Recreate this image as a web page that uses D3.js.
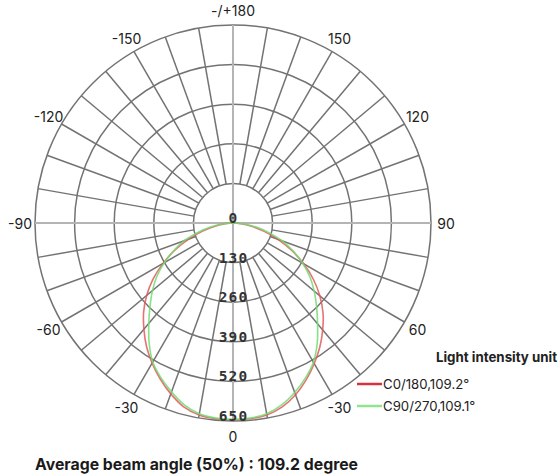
<!DOCTYPE html>
<html><head><meta charset="utf-8">
<script src="https://cdn.jsdelivr.net/npm/d3@7"></script>
<style>
html,body{margin:0;padding:0;background:#fff;}
svg{display:block;}
</style></head>
<body>
<svg id="chart" width="560" height="476"></svg>
<script>
// ---- data ----
const gammaAngles = [-90,-85,-80,-75,-70,-65,-60,-55,-50,-45,-40,-35,-30,-25,-20,-15,-10,-5,0,5,10,15,20,25,30,35,40,45,50,55,60,65,70,75,80,85,90];
const c0Values  = [0,25,60,105,155,210,265,320,370,415,455,495,531,565,597,625,640,645,645,645,640,625,600,568,533,497,458,418,372,322,268,212,157,106,62,26,0];
const c90Values = [0,35,75,120,170,215,260,305,345,385,430,480,527,560,590,618,636,643,645,643,636,618,592,562,528,482,432,388,348,308,264,218,172,122,77,36,0];
const ringValues = [130,260,390,520,650];
const ringLabels = ["0","130","260","390","520","650"];
const angleTicks = [0,30,60,90,120,150,180,-150,-120,-90,-60,-30];
const angleTickLabels = ["0","-30","60","90","120","150","-/+180","-150","-120","-90","-60","-30"];
const seriesNames = ["C0/180,109.2°","C90/270,109.1°"];
const seriesColors = ["#e05a5a","#72dc72"];
const legendColors = ["#d8323e","#8fe48f"];

const svg = d3.select("#chart");
const cx = 233, cy = 223, R = 198;
const r = d3.scaleLinear().domain([0, 650]).range([0, R]);
const toRad = d => d * Math.PI / 180;
// angle measured from downward vertical, positive to the right
const px = (deg, v) => cx + r(v) * Math.sin(toRad(deg));
const py = (deg, v) => cy + r(v) * Math.cos(toRad(deg));

const g = svg.append("g");

// rings
g.selectAll("circle.ring").data(ringValues).join("circle")
  .attr("cx", cx).attr("cy", cy).attr("r", d => r(d))
  .attr("fill", "none").attr("stroke", "#737373").attr("stroke-width", 1.5);

// spokes every 10 degrees from inner ring
const spokes = d3.range(-170, 190, 10).filter(a => a % 90 !== 0);
g.selectAll("line.spoke").data(spokes).join("line")
  .attr("x1", d => px(d, ringValues[0])).attr("y1", d => py(d, ringValues[0]))
  .attr("x2", d => px(d, 650)).attr("y2", d => py(d, 650))
  .attr("stroke", "#737373").attr("stroke-width", 1.5);

// main axes through centre
g.selectAll("line.axis").data([0, 90]).join("line")
  .attr("x1", d => px(d, 650)).attr("y1", d => py(d, 650))
  .attr("x2", d => px(d + 180, 650)).attr("y2", d => py(d + 180, 650))
  .attr("stroke", "#b4b4b4").attr("stroke-width", 2);

// curves
const series = [c0Values, c90Values];
const line = d3.lineRadial()
  .angle((d, i) => Math.PI - toRad(gammaAngles[i]))
  .radius(d => r(d))
  .curve(d3.curveCatmullRom);
const curves = svg.append("g").attr("transform", `translate(${cx},${cy})`);
curves.selectAll("path").data(series).join("path")
  .attr("d", d => line(d))
  .attr("fill", "none")
  .attr("stroke", (d, i) => seriesColors[i])
  .attr("stroke-opacity", 0.85)
  .attr("stroke-width", 1.6);

// ring labels
svg.append("g").selectAll("text").data(ringLabels).join("text")
  .attr("x", cx + 0.5).attr("y", (d, i) => cy + r(i * 130) - 5)
  .attr("text-anchor", "middle").attr("dominant-baseline", "central")
  .attr("font-family", "DejaVu Sans Mono").attr("font-weight", "bold")
  .attr("font-size", 14.5).attr("letter-spacing", 1.1).attr("fill", "#333")
  .text(d => d);

// angle labels
const L = 213;
svg.append("g").selectAll("text").data(angleTicks).join("text")
  .attr("x", d => cx + L * Math.sin(toRad(d)))
  .attr("y", d => cy + L * Math.cos(toRad(d)))
  .attr("text-anchor", "middle").attr("dominant-baseline", "central")
  .attr("font-family", "Inter, sans-serif").attr("font-size", 14).attr("fill", "#222")
  .text((d, i) => angleTickLabels[i]);

// legend
const lg = svg.append("g");
lg.append("text").attr("x", 436).attr("y", 357)
  .attr("dominant-baseline", "central")
  .attr("font-family", "Inter, sans-serif").attr("font-weight", "bold")
  .attr("font-size", 13.3).attr("fill", "#222").text("Light intensity unit");
seriesNames.forEach((name, i) => {
  const y = 384 + i * 22;
  lg.append("line").attr("x1", 357).attr("x2", 382).attr("y1", y).attr("y2", y)
    .attr("stroke", legendColors[i]).attr("stroke-width", 2.5);
  lg.append("text").attr("x", 383).attr("y", y).attr("dominant-baseline", "central")
    .attr("font-family", "Inter, sans-serif").attr("font-size", 13.2).attr("fill", "#222").text(name);
});

// footer
svg.append("text").attr("x", 35).attr("y", 464).attr("dominant-baseline", "central")
  .attr("font-family", "Inter, sans-serif").attr("font-weight", "bold")
  .attr("font-size", 15.8).attr("fill", "#1a1a1a")
  .text("Average beam angle (50%) : 109.2 degree");
</script>
</body></html>
